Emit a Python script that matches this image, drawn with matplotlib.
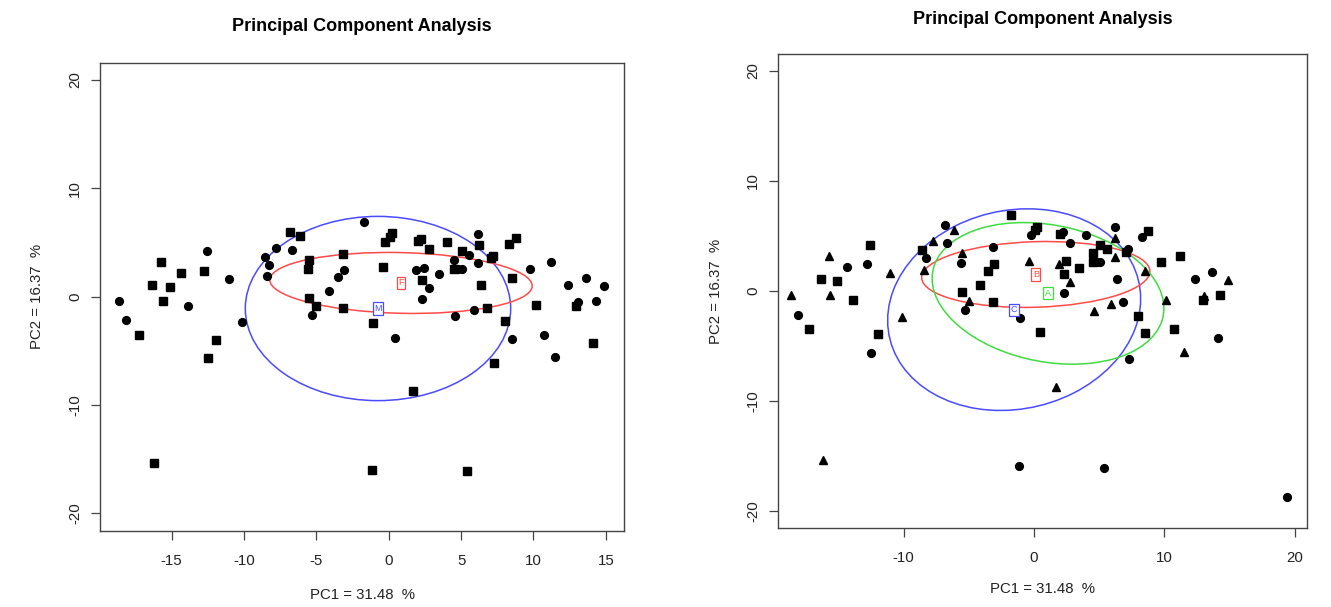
import matplotlib
matplotlib.use("Agg")
import matplotlib.pyplot as plt
from matplotlib.patches import Ellipse
import numpy as np

plt.rcParams['font.family'] = ['Liberation Sans', 'DejaVu Sans']
plt.rcParams['axes.unicode_minus'] = False

# PCA scores (same samples in both panels)
pc1 = [-18.63, -18.12, -17.24, -15.73, -16.36, -15.63, -15.13, -14.38, -13.85, -12.78,
       -12.57, -11.96, -12.49, -11.07, -10.14, -16.22, -1.14, -8.57, -8.25, -8.42,
       -7.76, -6.81, -6.16, -6.66, -5.50, -5.61, -5.50, -5.01, -5.27, -4.12,
       -3.52, -3.07, -3.17, -3.16, -1.74, -1.10, -0.36, 0.20, 0.10, -0.24,
       2.02, 2.20, 2.78, 4.03, 4.50, 4.54, 4.82, 5.05, 1.89, 2.45,
       2.30, 3.46, 2.76, 2.28, 0.45, 1.68, 5.40, 4.60, 5.91, 6.82,
       6.38, 6.20, 5.57, 5.05, 6.19, 6.25, 7.20, 7.05, 8.30, 8.78,
       8.51, 8.01, 8.55, 7.27, 10.17, 9.77, 11.22, 10.71, 11.50, 12.36,
       13.07, 12.97, 13.63, 14.31, 14.15, 14.90, 19.42]
pc2 = [-0.38, -2.20, -3.52, 3.15, 1.07, -0.42, 0.88, 2.14, -0.87, 2.40,
       4.18, -3.98, -5.64, 1.65, -2.37, -15.38, -15.97, 3.68, 2.95, 1.92,
       4.50, 5.97, 5.56, 4.32, 3.42, 2.54, -0.09, -0.90, -1.74, 0.55,
       1.80, 2.45, 3.97, -1.06, 6.90, -2.47, 2.73, 5.83, 5.48, 5.03,
       5.13, 5.31, 4.36, 5.05, 3.40, 2.57, 2.57, 2.57, 2.43, 2.68,
       1.52, 2.07, 0.80, -0.24, -3.78, -8.75, -16.12, -1.80, -1.22, -1.06,
       1.04, 3.06, 3.82, 4.20, 5.79, 4.80, 3.79, 3.53, 4.85, 5.45,
       1.76, -2.29, -3.88, -6.17, -0.82, 2.57, 3.16, -3.51, -5.60, 1.07,
       -0.50, -0.88, 1.72, -0.40, -4.26, 1.00, -18.78]
sex = list("FFMMMMMMFMFMMFFMMFFFFMMFMMMMFFFFMMFMMMMMMMMMFMFFFFMFFFFMMFFMMFFMFMMMMMMMFMMFFFFFFMFFMF") + ['']
group = list("ACBABABCBCBBCAAACBCAACACACBACBBBCBBCABBCBCCCBBCCABBBACBACAACCABBCACBCBABBCABBBACABCBCA") + ['C']

# group ellipses: centre x, centre y, half axes, angle (deg)
sex_levels = ['M', 'F']
sex_cx = [-0.74, 0.85]
sex_cy = [-1.10, 1.26]
sex_a = [9.17, 9.07]
sex_b = [8.50, 2.80]
sex_ang = [0.0, -1.9]

grp_levels = ['C', 'B', 'A']
grp_cx = [-1.52, 0.14, 1.08]
grp_cy = [-1.72, 1.48, -0.24]
grp_a = [10.0, 8.76, 9.09]
grp_b = [8.85, 2.98, 6.16]
grp_ang = [31.0, 2.1, -16.3]

xlab = 'PC1 = 31.48  %'
ylab = 'PC2 = 16.37  %'
title = 'Principal Component Analysis'

sex_marker = {'M': 's', 'F': 'o'}
sex_ms = {'M': 5.2, 'F': 5.6}
sex_col = {'M': '#4a4aff', 'F': '#ff4a4a'}
grp_marker = {'A': '^', 'B': 's', 'C': 'o'}
grp_ms = {'A': 6.3, 'B': 5.2, 'C': 5.6}
grp_col = {'A': '#3fdc3f', 'B': '#ff4a4a', 'C': '#4a4aff'}

W, H = 1331, 607
fig = plt.figure(figsize=(W / 100, H / 100), dpi=100)


def px_axes(l, t, r, b):
    return fig.add_axes([l / W, 1 - b / H, (r - l) / W, (b - t) / H])


def style(ax, xticks, xlim, ylim, title_pad, xl_y, yl_x):
    ax.set_xlim(*xlim)
    ax.set_ylim(*ylim)
    ax.set_xticks(xticks)
    ax.set_yticks([-20, -10, 0, 10, 20])
    ax.tick_params(direction='out', length=6.5, width=0.9, color='#444444',
                   labelsize=10.8, labelcolor='#222222')
    ax.tick_params(axis='x', pad=10)
    ax.tick_params(axis='y', pad=6.5, labelrotation=90)
    plt.setp(ax.get_yticklabels(), va='center')
    for s in ax.spines.values():
        s.set_color('#444444')
        s.set_linewidth(1.0)
    ax.set_title(title, fontsize=13, fontweight='bold', pad=title_pad)
    ax.set_xlabel(xlab, fontsize=10.8, color='#222222')
    ax.set_ylabel(ylab, fontsize=10.8, color='#222222')
    ax.xaxis.set_label_coords(0.5, xl_y)
    ax.xaxis.label.set_va('center')
    ax.yaxis.set_label_coords(yl_x, 0.5)
    ax.yaxis.label.set_va('center')


def draw_class(ax, lev, cx, cy, a, b, ang, col):
    ax.add_patch(Ellipse((cx, cy), 2 * a, 2 * b, angle=ang, fill=False,
                         edgecolor=col, lw=1.1))
    ax.text(cx, cy, lev, color=col, fontsize=6.5, ha='center', va='center',
            bbox=dict(boxstyle='square,pad=0.18', fc='white', ec=col, lw=0.9))


pc1 = np.array(pc1)
pc2 = np.array(pc2)
sex = np.array(sex)
group = np.array(group)

# left panel: by sex
ax1 = px_axes(100.3, 62.5, 623.7, 531)
for lev in sex_levels:
    m = sex == lev
    ax1.plot(pc1[m], pc2[m], ls='none', marker=sex_marker[lev], ms=sex_ms[lev],
             color='black', mec='black')
for i, lev in enumerate(sex_levels):
    draw_class(ax1, lev, sex_cx[i], sex_cy[i], sex_a[i], sex_b[i], sex_ang[i], sex_col[lev])
style(ax1, [-15, -10, -5, 0, 5, 10, 15], (-19.93, 16.24), (-21.63, 21.6),
      22.5, -0.1366, -0.12)

# right panel: by group
ax2 = px_axes(778.3, 54.3, 1306.7, 527.7)
for lev in ['A', 'B', 'C']:
    m = group == lev
    ax2.plot(pc1[m], pc2[m], ls='none', marker=grp_marker[lev], ms=grp_ms[lev],
             color='black', mec='black')
for i, lev in enumerate(grp_levels):
    draw_class(ax2, lev, grp_cx[i], grp_cy[i], grp_a[i], grp_b[i], grp_ang[i], grp_col[lev])
style(ax2, [-10, 0, 10, 20], (-19.62, 20.93), (-21.55, 21.5),
      22, -0.1301, -0.118)

fig.savefig('out.png', dpi=100)
